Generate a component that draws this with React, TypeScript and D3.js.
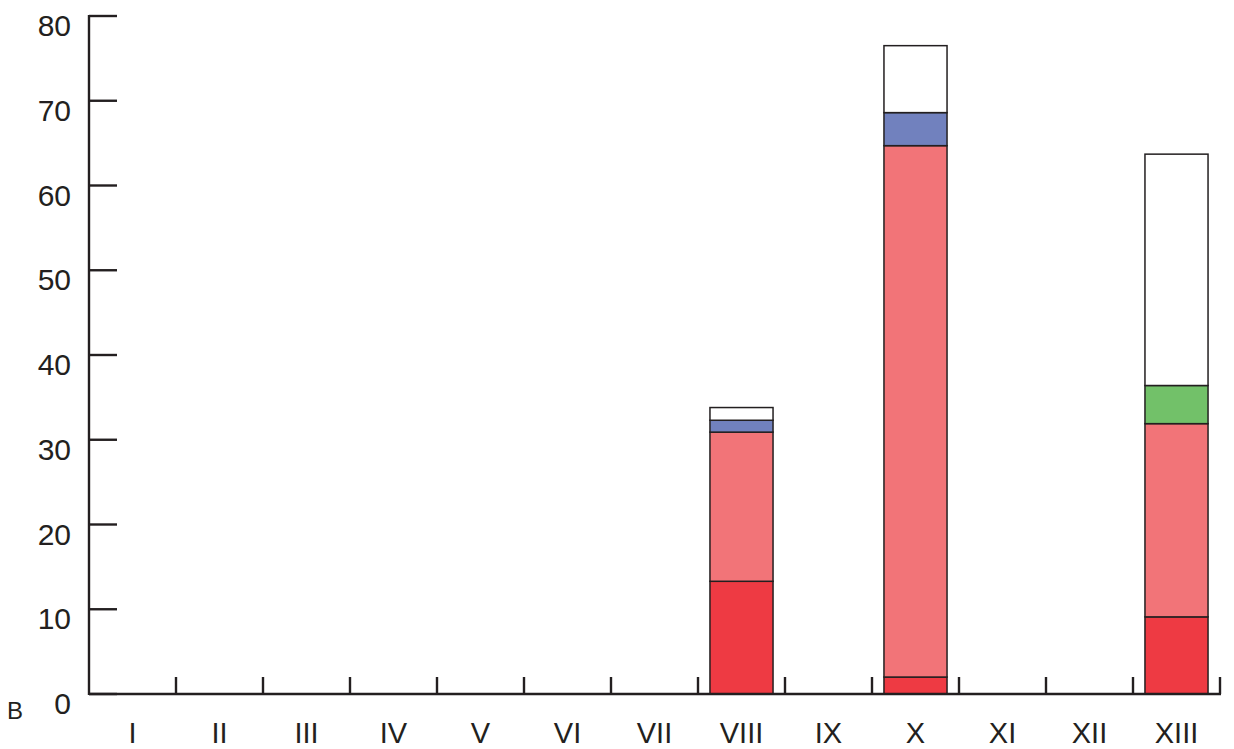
import React from "react";
import * as d3 from "d3";

const categories = ["I", "II", "III", "IV", "V", "VI", "VII", "VIII", "IX", "X", "XI", "XII", "XIII"];
const seriesKeys = ["dark", "light", "blue", "green", "white"];
const darkRed = [0, 0, 0, 0, 0, 0, 0, 13.3, 0, 2.0, 0, 0, 9.1];
const lightRed = [0, 0, 0, 0, 0, 0, 0, 17.6, 0, 62.7, 0, 0, 22.8];
const blue = [0, 0, 0, 0, 0, 0, 0, 1.4, 0, 3.9, 0, 0, 0];
const green = [0, 0, 0, 0, 0, 0, 0, 0, 0, 0, 0, 0, 4.5];
const white = [0, 0, 0, 0, 0, 0, 0, 1.5, 0, 7.9, 0, 0, 27.3];
const yTicks = [0, 10, 20, 30, 40, 50, 60, 70, 80];
const cornerLabel = "B";

const colors: Record<string, string> = {
  dark: "#ee3a43",
  light: "#f27478",
  blue: "#7181be",
  green: "#72c169",
  white: "#ffffff",
};

export default function App() {
  const W = 1234, H = 749;
  const x0 = 89, x1 = 1220, yTop = 16, yBot = 694;
  const rows = categories.map((c, i) => ({
    cat: c,
    dark: darkRed[i],
    light: lightRed[i],
    blue: blue[i],
    green: green[i],
    white: white[i],
  }));
  const stack = d3.stack<any>().keys(seriesKeys);
  const layers = stack(rows);
  const x = d3.scaleBand().domain(categories).range([x0, x1]).paddingInner(0).paddingOuter(0);
  const y = d3.scaleLinear().domain([0, 80]).range([yBot, yTop]);
  const bw = x.bandwidth() * 0.725;
  const ink = "#231f20";
  const font = "'Liberation Sans', Arial, sans-serif";

  return (
    <svg width={W} height={H} style={{ position: "absolute", left: 0, top: 0, background: "#fff" }}>
      {layers.map((layer) =>
        layer.map((d, i) => {
          if (d[1] - d[0] <= 0) return null;
          const cx = (x(categories[i]) as number) + x.bandwidth() / 2;
          return (
            <rect
              key={layer.key + i}
              x={cx - bw / 2}
              y={y(d[1])}
              width={bw}
              height={y(d[0]) - y(d[1])}
              fill={colors[layer.key]}
              stroke={ink}
              strokeWidth={1.5}
            />
          );
        })
      )}
      {/* y axis */}
      <line x1={x0} x2={x0} y1={yTop - 1} y2={yBot + 1} stroke={ink} strokeWidth={2.4} />
      {yTicks.map((t) => (
        <g key={t}>
          <line x1={x0} x2={x0 + 28} y1={y(t)} y2={y(t)} stroke={ink} strokeWidth={2.4} />
          <text x={71} y={y(t) + 20} textAnchor="end" fontFamily={font} fontSize={30} fill={ink}>
            {t}
          </text>
        </g>
      ))}
      {/* x axis */}
      <line x1={x0} x2={x1 + 1} y1={yBot} y2={yBot} stroke={ink} strokeWidth={2.4} />
      {categories.map((c, i) => {
        const bx = (x(c) as number) + x.bandwidth();
        return (
          <g key={c}>
            <line x1={bx} x2={bx} y1={yBot} y2={yBot - 17} stroke={ink} strokeWidth={2.4} />
            <text
              x={(x(c) as number) + x.bandwidth() / 2}
              y={743}
              textAnchor="middle"
              fontFamily={font}
              fontSize={29}
              fill={ink}
            >
              {c}
            </text>
          </g>
        );
      })}
      <text x={7} y={719} fontFamily={font} fontSize={24} fill={ink}>
        {cornerLabel}
      </text>
    </svg>
  );
}
